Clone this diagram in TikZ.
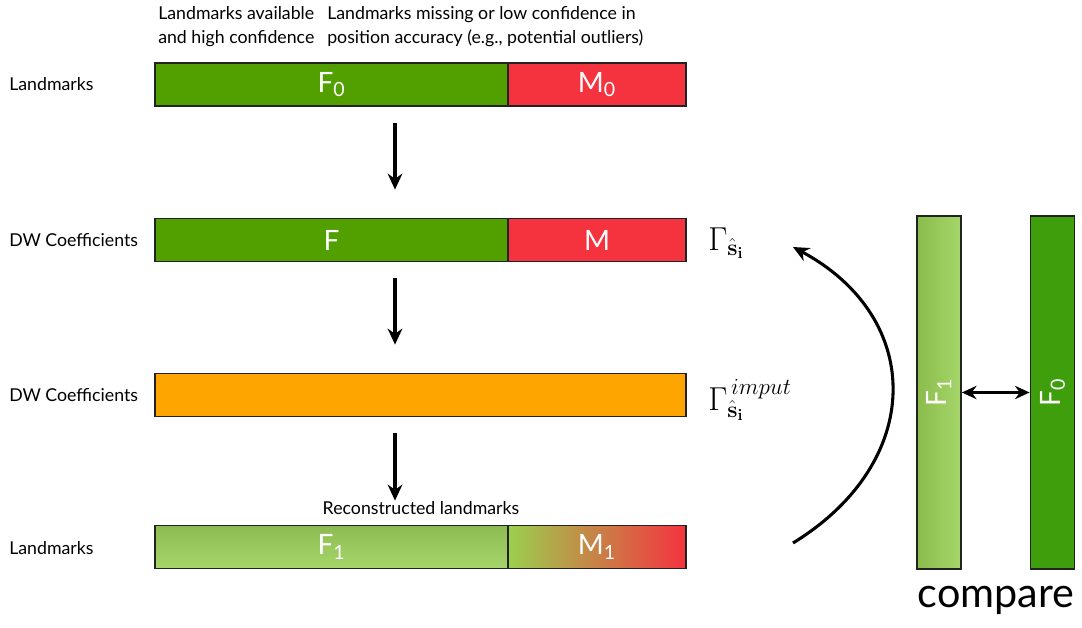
\documentclass[tikz,border=0pt]{standalone}
\usepackage[no-math]{fontspec}
\setmainfont{Lato}
\usetikzlibrary{arrows.meta,calc}
\definecolor{gA}{HTML}{52A000}
\definecolor{rA}{HTML}{F5333F}
\definecolor{oA}{HTML}{FFA500}
\definecolor{gL}{HTML}{96CC52}
\definecolor{gLb}{HTML}{A6D66A}
\definecolor{gD}{HTML}{3F9E0C}
\definecolor{bd}{HTML}{222222}
\begin{document}
\begin{tikzpicture}[x=0.75pt,y=-0.75pt,
  bar/.style={draw=bd,line width=1.3pt,inner sep=0pt,minimum height=32.25pt,text=white,font=\fontsize{21}{23}\selectfont},
  lab/.style={font=\fontsize{13.3}{15}\selectfont,anchor=west,inner sep=0pt},
  arr/.style={-{Stealth[length=12pt,width=11pt]},line width=2.3pt},
  darr/.style={{Stealth[length=11pt,width=10pt]}-{Stealth[length=11pt,width=10pt]},line width=2.3pt},
  gam/.style={font=\fontsize{24}{26}\selectfont,anchor=west,inner sep=0pt}]
\useasboundingbox (0,0) rectangle (1082,628);
% top notes
\node[font=\fontsize{13.3}{18}\selectfont,align=left,anchor=north west,inner sep=0pt] (n1) at (158,6) {Landmarks available\\and high confidence};
\node[font=\fontsize{13.3}{18}\selectfont,align=left,anchor=north west,inner sep=0pt] (n2) at (327,6) {Landmarks missing or low confidence in\\position accuracy (e.g., potential outliers)};
% row labels
\node[lab] (l1) at (9,84.5) {Landmarks};
\node[lab] (l2) at (9,240) {DW Coefficients};
\node[lab] (l3) at (9,395) {DW Coefficients};
\node[lab] (l4) at (9,548) {Landmarks};
% row 1
\node[bar,fill=gA,minimum width=264.75pt] (f0) at (331.5,84.5) {F\textsubscript{0}};
\node[bar,fill=rA,minimum width=133.5pt] (m0) at (597,84.5) {M\textsubscript{0}};
% row 2
\node[bar,fill=gA,minimum width=264.75pt] (f) at (331.5,240) {F};
\node[bar,fill=rA,minimum width=133.5pt] (m) at (597,240) {M};
% row 3
\node[bar,fill=oA,minimum width=398.25pt] (o) at (420.5,395) {};
% row 4
\node[bar,top color=gL!90!black!95,bottom color=gLb,minimum width=264.75pt] (f1) at (331.5,547) {F\textsubscript{1}};
\node[bar,left color=gL!95!yellow,right color=rA,minimum width=133.5pt] (m1) at (597,547) {M\textsubscript{1}};
\node[font=\fontsize{13.3}{15}\selectfont,inner sep=0pt] (rec) at (421,508) {Reconstructed landmarks};
% gamma labels
\node[gam] (g1) at (708,243) {$\Gamma_{\hat{\mathbf{s}}_{\mathbf{i}}}$};
\node[gam] (g2) at (708,400) {$\Gamma^{\,imput}_{\hat{\mathbf{s}}_{\mathbf{i}}}$};
% vertical arrows
\coordinate (ax) at (395,0);
\draw[arr] ([yshift=-12pt]f0.south -| ax) -- ([yshift=21pt]f.north -| ax);
\draw[arr] ([yshift=-12pt]f.south -| ax) -- ([yshift=21pt]o.north -| ax);
\draw[arr] ([yshift=-12pt]o.south -| ax) -- ([yshift=18pt]f1.north -| ax);
% curved arrow
\coordinate (cs) at (793,543);
\coordinate (ce) at (793,247);
\draw[arr] (cs) .. controls (925,462) and (925,318) .. (ce);
% vertical bars
\node[bar,left color=gL!92!black,right color=gLb,minimum width=33pt,minimum height=264.75pt] (vf1) at (939,392.5) {};
\node[bar,fill=gD,minimum width=33pt,minimum height=264.75pt] (vf0) at (1052.5,392.5) {};
\node[rotate=90,text=white,font=\fontsize{21}{23}\selectfont,inner sep=0pt] (tf1) at (vf1.center) {F\textsubscript{1}};
\node[rotate=90,text=white,font=\fontsize{21}{23}\selectfont,inner sep=0pt] (tf0) at (vf0.center) {F\textsubscript{0}};
\draw[darr] (vf1.east) -- (vf0.west);
\node[font=\fontsize{31}{34}\selectfont,inner sep=0pt] (cmp) at (996,600) {compare};
\end{tikzpicture}
\end{document}
